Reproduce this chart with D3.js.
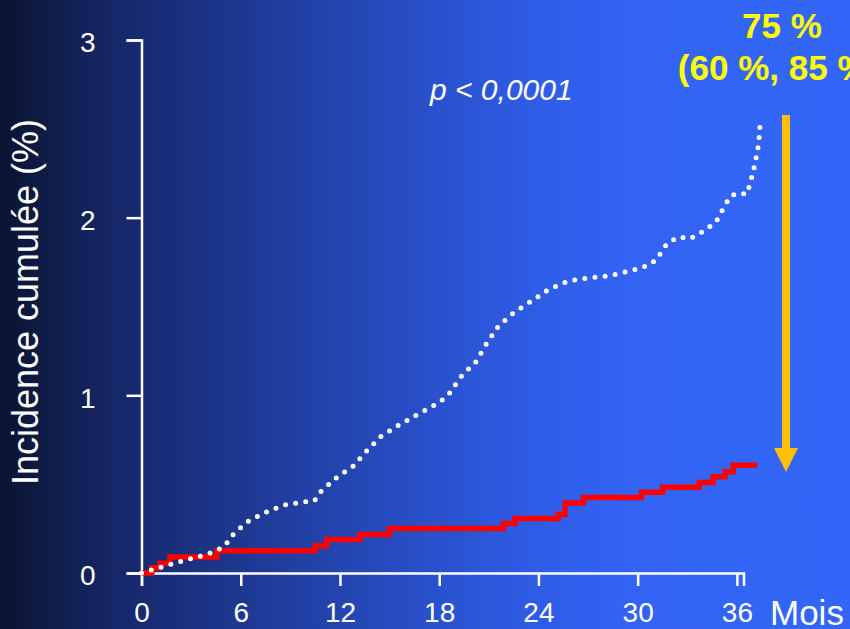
<!DOCTYPE html>
<html>
<head>
<meta charset="utf-8">
<script src="https://cdn.jsdelivr.net/npm/d3@7"></script>
<style>
  html, body { margin: 0; padding: 0; overflow: hidden; background: #0b1433; }
  svg { display: block; }
  text { font-family: "Liberation Sans", Arial, sans-serif; }
</style>
</head>
<body>
<svg id="chart" width="850" height="629"></svg>
<script>
// ---- Data ----
const xTicks = [0, 6, 12, 18, 24, 30, 36];
const yTicks = [0, 1, 2, 3];

// Control group (white dotted curve): months, cumulative incidence (%)
const controlMonths = [0, 1.48, 2.69, 3.92, 4.50, 5.05, 5.39, 6.30, 7.42, 8.62, 9.84, 10.45, 10.79, 11.74, 12.79, 13.62, 14.50, 15.57, 16.67, 17.76, 18.29, 18.63, 19.32, 20.22, 20.87, 21.58, 22.52, 23.59, 24.64, 25.79, 27.04, 28.31, 29.53, 30.74, 31.23, 31.53, 32.01, 32.56, 33.12, 33.68, 34.73, 35.32, 35.68, 36.23, 36.57, 36.79, 37.09, 37.32, 37.41];
const controlValues = [0, 0.041, 0.073, 0.103, 0.126, 0.152, 0.203, 0.283, 0.338, 0.383, 0.400, 0.405, 0.454, 0.533, 0.601, 0.687, 0.771, 0.833, 0.891, 0.947, 0.981, 1.013, 1.105, 1.189, 1.292, 1.389, 1.467, 1.531, 1.598, 1.642, 1.662, 1.673, 1.700, 1.735, 1.773, 1.828, 1.869, 1.893, 1.880, 1.906, 1.974, 2.077, 2.126, 2.139, 2.131, 2.186, 2.300, 2.416, 2.537];

// Treatment group (red step curve)
const treatMonths = [0, 0.62, 1.12, 1.72, 4.55, 10.49, 11.20, 13.21, 14.98, 21.88, 22.58, 25.20, 25.61, 26.71, 30.24, 31.51, 33.72, 34.56, 35.28, 35.78, 37.23];
const treatValues = [0, 0.030, 0.055, 0.090, 0.125, 0.154, 0.189, 0.217, 0.251, 0.279, 0.307, 0.331, 0.394, 0.425, 0.455, 0.483, 0.510, 0.542, 0.570, 0.606, 0.606];

const yLabel = "Incidence cumulée (%)";
const xLabel = "Mois";
const pText = "p < 0,0001";
const reductionLines = ["75 %", "(60 %, 85 %)"];

// ---- Setup ----
const svg = d3.select("#chart");
const W = 850, H = 629;

const defs = svg.append("defs");
const grad = defs.append("linearGradient").attr("id", "bg").attr("x1", "0").attr("x2", "1").attr("y1", "0").attr("y2", "0");
[[0, "#0a1330"], [0.06, "#101d4a"], [0.14, "#16276a"], [0.25, "#1c3488"], [0.38, "#2343ab"], [0.52, "#2a52cf"], [0.64, "#2f5de8"], [0.74, "#3263f4"], [1, "#3366f8"]]
  .forEach(([o, c]) => grad.append("stop").attr("offset", o).attr("stop-color", c));
svg.append("rect").attr("width", W).attr("height", H).attr("fill", "url(#bg)");

const x = d3.scaleLinear().domain([0, 36.4]).range([141.5, 743.5]);
const y = d3.scaleLinear().domain([0, 3]).range([573, 40]);

// Axes
const yAxis = d3.axisLeft(y).tickValues(yTicks).tickSize(15).tickSizeOuter(15).tickPadding(31).tickFormat(d3.format("d"));
const gy = svg.append("g").attr("transform", `translate(${x(0)},0)`).call(yAxis);
const xAxis = d3.axisBottom(x).tickValues(xTicks).tickSize(13).tickSizeOuter(13).tickPadding(16).tickFormat(d3.format("d"));
const gx = svg.append("g").attr("transform", `translate(0,${y(0)})`).call(xAxis);

[gx, gy].forEach(g => {
  g.selectAll("path.domain, line").attr("stroke", "#ffffff").attr("stroke-width", 2.5);
  g.selectAll("text").attr("fill", "#ffffff").attr("font-size", 28)
    .attr("font-family", '"Liberation Sans", Arial, sans-serif');
});
gy.selectAll("text").attr("dy", "0.42em");

// Axis titles
svg.append("text")
  .attr("transform", `translate(38,302) rotate(-90)`)
  .attr("text-anchor", "middle")
  .attr("fill", "#ffffff").attr("font-size", 36)
  .text(yLabel);
svg.append("text")
  .attr("x", 770).attr("y", 625)
  .attr("fill", "#ffffff").attr("font-size", 35)
  .text(xLabel);

// Curves
const ctrl = controlMonths.map((m, i) => [m, controlValues[i]]);
const trt = treatMonths.map((m, i) => [m, treatValues[i]]);

svg.append("path")
  .datum(trt)
  .attr("fill", "none").attr("stroke", "#ff0000").attr("stroke-width", 5.5)
  .attr("d", d3.line().x(d => x(d[0])).y(d => y(d[1])).curve(d3.curveStepAfter));

svg.append("path")
  .datum(ctrl)
  .attr("fill", "none").attr("stroke", "#ffffff").attr("stroke-width", 5)
  .attr("stroke-linecap", "round").attr("stroke-dasharray", "0 10.2")
  .attr("d", d3.line().x(d => x(d[0])).y(d => y(d[1])).curve(d3.curveLinear));

// p-value
svg.append("text")
  .attr("x", 430).attr("y", 100)
  .attr("fill", "#ffffff").attr("font-size", 30).attr("font-style", "italic")
  .text(pText);

// Reduction annotation
svg.append("text").attr("x", 782).attr("y", 38).attr("text-anchor", "middle")
  .attr("fill", "#ffff00").attr("font-size", 35).attr("font-weight", "bold").text(reductionLines[0]);
svg.append("text").attr("x", 779).attr("y", 80).attr("text-anchor", "middle")
  .attr("fill", "#ffff00").attr("font-size", 35).attr("font-weight", "bold").text(reductionLines[1]);

// Arrow
svg.append("rect").attr("x", 782).attr("y", 115).attr("width", 8).attr("height", 336).attr("fill", "#ffc000");
svg.append("path").attr("d", "M774,448 L798,448 L786,472 Z").attr("fill", "#ffc000");
</script>
</body>
</html>
